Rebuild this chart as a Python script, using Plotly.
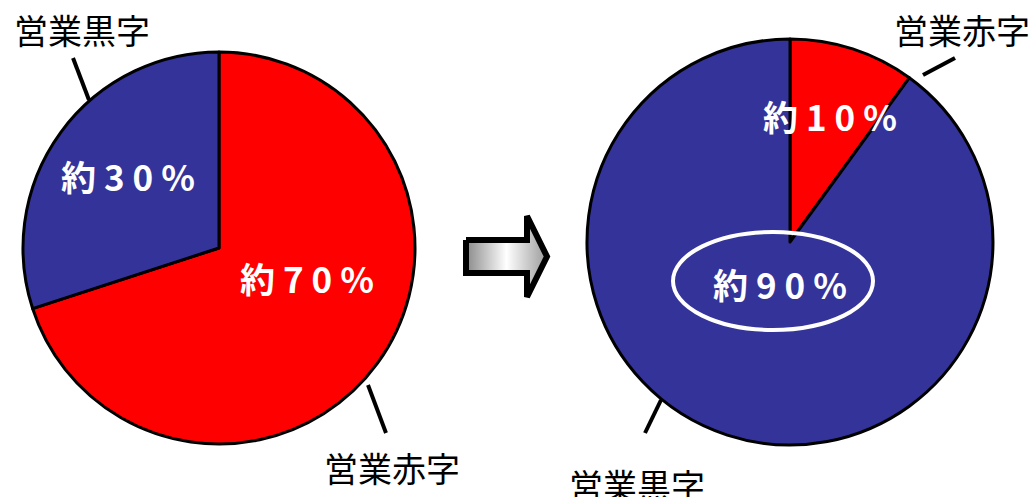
import plotly.graph_objects as go

# Share of companies by operating result, before and after
categories = ["営業赤字", "営業黒字"]
before_values = [70, 30]
after_values = [10, 90]
slice_colors = ["#FF0000", "#333399"]

W, H = 1031, 497
FONT = "Noto Sans CJK JP"


def pct_label(v):
    # spaced-out digits: 約 3 0 %
    return "約 " + " ".join(str(v)) + " %"


def pie_domain(cx, cy, r):
    # cx, cy, r in pixels (y measured from the top)
    return dict(x=[(cx - r) / W, (cx + r) / W],
                y=[(H - cy - r) / H, (H - cy + r) / H])


fig = go.Figure()

fig.add_trace(go.Pie(
    labels=categories, values=before_values, sort=False,
    direction="clockwise", rotation=0,
    marker=dict(colors=slice_colors, line=dict(color="black", width=3)),
    textinfo="none", hoverinfo="label+percent",
    domain=pie_domain(219, 248, 196), showlegend=False,
))

fig.add_trace(go.Pie(
    labels=categories, values=after_values, sort=False,
    direction="clockwise", rotation=0,
    marker=dict(colors=slice_colors, line=dict(color="black", width=3)),
    textinfo="none", hoverinfo="label+percent",
    domain=pie_domain(790, 242, 203), showlegend=False,
))

# Block arrow between the two pies, with a metallic gradient fill
arrow_x = [466, 527, 527, 547, 527, 527, 466, 466]
arrow_y = [240, 240, 216, 256.5, 297, 273, 273, 240]
fig.add_trace(go.Scatter(
    x=arrow_x, y=arrow_y, mode="lines", fill="toself",
    fillgradient=dict(type="horizontal",
                      colorscale=[[0, "#8a8a8a"], [0.5, "#ffffff"], [1, "#9a9a9a"]]),
    line=dict(color="black", width=6), hoverinfo="skip", showlegend=False,
))

shapes = []
# leader lines to the category captions
for x0, y0, x1, y1 in [(73, 58, 89, 100), (368, 385, 386, 433),
                       (661, 400, 645, 433), (923, 75, 955, 58)]:
    shapes.append(dict(type="line", xref="x", yref="y", x0=x0, y0=y0, x1=x1, y1=y1,
                       line=dict(color="black", width=4)))
# highlight ring around the 90% label
shapes.append(dict(type="circle", xref="x", yref="y", x0=673, y0=232, x1=873, y1=330,
                   line=dict(color="white", width=4)))

annotations = []
# category captions
for text, x, y in [(categories[1], 82, 29), (categories[0], 392, 467),
                   (categories[1], 637, 484), (categories[0], 962, 29)]:
    annotations.append(dict(text=text, x=x, y=y, xref="x", yref="y", showarrow=False,
                            font=dict(family=FONT, size=34, color="black"),
                            xanchor="center", yanchor="middle"))
# percentage labels on the slices
for v, x, y in [(before_values[1], 128, 175), (before_values[0], 307, 277),
                (after_values[0], 830, 115), (after_values[1], 780, 283)]:
    annotations.append(dict(text=f"<b>{pct_label(v)}</b>", x=x, y=y, xref="x", yref="y",
                            showarrow=False,
                            font=dict(family=FONT, size=35, color="white"),
                            xanchor="center", yanchor="middle"))

fig.update_layout(
    width=W, height=H, margin=dict(l=0, r=0, t=0, b=0),
    paper_bgcolor="white", plot_bgcolor="rgba(0,0,0,0)",
    xaxis=dict(range=[0, W], visible=False, fixedrange=True),
    yaxis=dict(range=[H, 0], visible=False, fixedrange=True),
    shapes=shapes, annotations=annotations,
)

fig.write_html("out.html")
